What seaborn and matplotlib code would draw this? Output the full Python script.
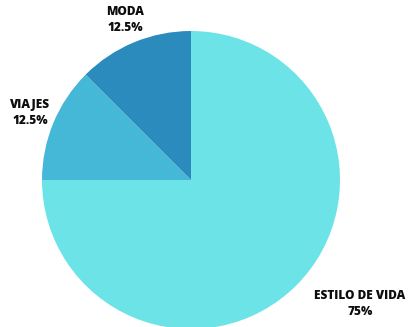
import matplotlib
matplotlib.use("Agg")
import matplotlib.pyplot as plt
import seaborn as sns

categories = ["ESTILO DE VIDA", "VIAJES", "MODA"]
shares = [75, 12.5, 12.5]
slice_colors = ["#6ce3e7", "#45b8d7", "#2c8bbd"]

sns.set_theme(style="white")
plt.rcParams["font.family"] = ["Open Sans", "DejaVu Sans"]

W, H = 414, 327
fig = plt.figure(figsize=(W / 100, H / 100), dpi=100)
ax = fig.add_axes([0, 0, 1, 1])
ax.set_xlim(0, W)
ax.set_ylim(0, H)
ax.set_aspect("equal")
ax.axis("off")

palette = sns.color_palette(slice_colors)
ax.pie(shares, colors=palette, startangle=90, counterclock=False,
       center=(191, H - 180), radius=149,
       wedgeprops=dict(linewidth=0))
ax.set_xlim(0, W)
ax.set_ylim(0, H)

# label anchors (pixel coordinates, measured from top)
label_pos = [(360, 304), (30, 113), (125, 20)]

def fmt(v):
    return f"{v:g}%"

for name, val, (x, y) in zip(categories, shares, label_pos):
    ax.text(x, H - y, f"{name}\n{fmt(val)}", ha="center", va="center",
            fontsize=8.6, fontweight=800, color="#0d0d0d", linespacing=1.4)

fig.savefig("out.png", dpi=100, facecolor="white")
